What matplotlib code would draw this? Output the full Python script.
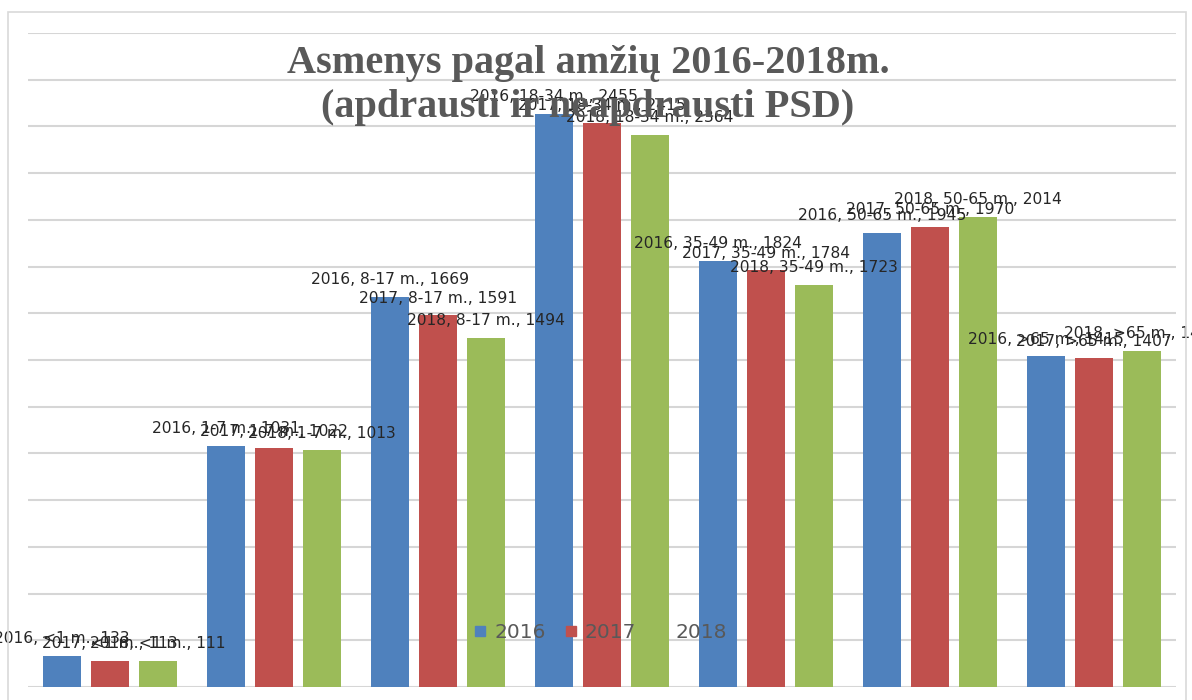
import matplotlib
matplotlib.use("Agg")
import matplotlib.pyplot as plt
from matplotlib.patches import Rectangle
from matplotlib.lines import Line2D

categories = ['<1 m.', '1-7 m.', '8-17 m.', '18-34 m.', '35-49 m.', '50-65 m.', '>65 m.']
years = ['2016', '2017', '2018']
v2016 = [133, 1031, 1669, 2455, 1824, 1945, 1415]
v2017 = [113, 1022, 1591, 2415, 1784, 1970, 1407]
v2018 = [111, 1013, 1494, 2364, 1723, 2014, 1440]
series = [v2016, v2017, v2018]
colors = ['#4F81BD', '#C0504D', '#9BBB59']

fig = plt.figure(figsize=(11.92, 7.0), dpi=100)
fig.patch.set_facecolor('white')

# outer chart frame
fig.patches.append(Rectangle((8/1192, -0.05), (1186-8)/1192, 1.05 - 12/700,
                             transform=fig.transFigure, fill=False,
                             edgecolor='#d9d9d9', linewidth=1.2))

ax = fig.add_axes([28/1192, 13/700, (1176-28)/1192, (687-33)/700])
ax.set_xlim(-0.5, len(categories) - 0.5)
ax.set_ylim(0, 2800)
ax.set_yticks(range(0, 2801, 200))
ax.yaxis.grid(True, color='#d6d6d6', linewidth=1.5)
ax.set_axisbelow(True)
ax.tick_params(left=False, bottom=False, labelleft=False, labelbottom=False)
for s in ax.spines.values():
    s.set_visible(False)

bw = 38/164
off = 48/164
for i, (vals, col, yr) in enumerate(zip(series, colors, years)):
    xs = [k + (i - 1) * off for k in range(len(categories))]
    ax.bar(xs, vals, width=bw, color=col, zorder=3)
    for x, v, c in zip(xs, vals, categories):
        ax.annotate(f"{yr}, {c}, {v}", (x, v), xytext=(0, 7),
                    textcoords='offset points', ha='center', va='bottom',
                    fontsize=11.2, color='#262626', zorder=5,
                    annotation_clip=False, family='DejaVu Sans')

fig.text(588/1192, 1 - 63/700, 'Asmenys pagal amžių 2016-2018m.',
         ha='center', va='center', fontsize=29, fontweight='bold',
         family='Liberation Serif', color='#595959', zorder=10)
fig.text(588/1192, 1 - 107/700, '(apdrausti ir neapdrausti PSD)',
         ha='center', va='center', fontsize=29, fontweight='bold',
         family='Liberation Serif', color='#595959', zorder=10)

handles = [Line2D([0], [0], marker='s', linestyle='none', markersize=7.5,
                  markerfacecolor=c, markeredgecolor=c) for c in colors]
leg = fig.legend(handles, years, loc='center', bbox_to_anchor=(600/1192, 1 - 633/700),
                 ncol=3, frameon=False, fontsize=14.5, handletextpad=0.35,
                 columnspacing=0.9, handlelength=0.7)
for t in leg.get_texts():
    t.set_color('#595959')
leg.set_zorder(20)

fig.savefig('out.png', dpi=100)
